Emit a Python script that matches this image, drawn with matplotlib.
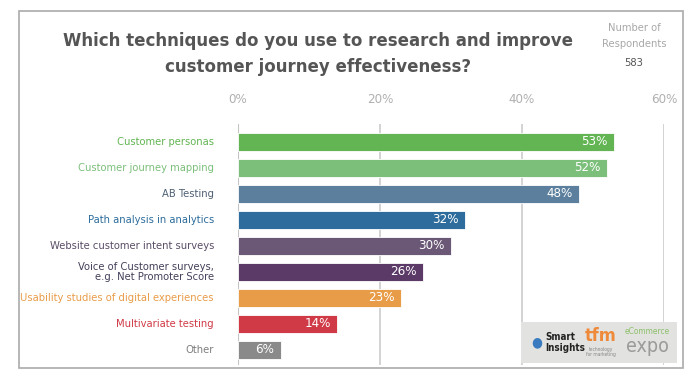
import matplotlib
matplotlib.use("Agg")
import matplotlib.pyplot as plt
from matplotlib.patches import Rectangle

plt.rcParams['font.family'] = ['DejaVu Sans']
plt.rcParams['font.stretch'] = 'condensed'

categories = [
    "Customer personas",
    "Customer journey mapping",
    "AB Testing",
    "Path analysis in analytics",
    "Website customer intent surveys",
    "Voice of Customer surveys,\ne.g. Net Promoter Score",
    "Usability studies of digital experiences",
    "Multivariate testing",
    "Other",
]
values = [53, 52, 48, 32, 30, 26, 23, 14, 6]
bar_colors = ["#62b552", "#7bbf7a", "#5b7f9c", "#2d6c9c", "#6a5876",
              "#5b3a68", "#e89c48", "#d03a46", "#8a8a8a"]
label_colors = ["#62b552", "#7bbf7a", "#4e5f73", "#2d6c9c", "#5a4d66",
                "#45405a", "#e89c48", "#d03a46", "#7d7d7d"]
ticks = [0, 20, 40, 60]
respondents = 583

W, H = 700, 383
fig = plt.figure(figsize=(7, 3.83), dpi=100)

# outer frame
fig.patches.append(Rectangle((19 / W, 1 - 368 / H), (683 - 19) / W, (368 - 11) / H,
                             transform=fig.transFigure, fill=False,
                             edgecolor="#aaaaaa", linewidth=1.2))

ax = fig.add_axes([238 / W, 1 - 365 / H, (664 - 238) / W, (365 - 124) / H])
y = list(range(len(categories)))
ax.barh(y, values, height=0.7, color=bar_colors, edgecolor="white", linewidth=0.6)
ax.set_xlim(0, 60)
ax.set_ylim(8.58, -0.69)
for s in ax.spines.values():
    s.set_visible(False)
ax.set_xticks(ticks)
ax.set_xticklabels([f"{t}%" for t in ticks])
ax.xaxis.tick_top()
ax.tick_params(axis="x", length=0, pad=13, labelsize=9.5, labelcolor="#b0b0b0")
ax.set_yticks([])
ax.grid(axis="x", color="#c8c8c8", linewidth=1.1)
ax.set_axisbelow(True)
ax.axvline(0, color="#bbbbbb", linewidth=1.5, zorder=0)

for yi, v, lab, lc in zip(y, values, categories, label_colors):
    ax.text(v - 0.9, yi, f"{v}%", ha="right", va="center", color="white", fontsize=9.5)
    ax.text(214 / W, 1 - (142 + 26 * yi) / H, lab, transform=fig.transFigure,
            ha="right", va="center", color=lc, fontsize=8.0, linespacing=0.95)

fig.text(318 / W, 1 - 41 / H, "Which techniques do you use to research and improve",
         ha="center", va="center", fontsize=13.3, fontweight="bold", color="#555555")
fig.text(318 / W, 1 - 67 / H, "customer journey effectiveness?",
         ha="center", va="center", fontsize=13.3, fontweight="bold", color="#555555")
fig.text(634 / W, 1 - 28 / H, "Number of", ha="center", va="center", fontsize=8, color="#a8a8a8")
fig.text(634 / W, 1 - 44 / H, "Respondents", ha="center", va="center", fontsize=8, color="#a8a8a8")
fig.text(634 / W, 1 - 63 / H, str(respondents), ha="center", va="center", fontsize=8, color="#555555")

# logo box
fig.patches.append(Rectangle((521 / W, 1 - 363 / H), (677 - 521) / W, (363 - 322) / H,
                             transform=fig.transFigure, facecolor="#e2e2e0",
                             edgecolor="none", zorder=5))
fig.text(545 / W, 1 - 337 / H, "Smart", ha="left", va="center", fontsize=7,
         fontweight="bold", color="#222222", zorder=6)
fig.text(545 / W, 1 - 348 / H, "Insights", ha="left", va="center", fontsize=7,
         fontweight="bold", color="#222222", zorder=6)
fig.text(537 / W, 1 - 342 / H, "●", ha="center", va="center", fontsize=10,
         color="#3a7bc0", zorder=6)
fig.text(601 / W, 1 - 336 / H, "tfm", ha="center", va="center", fontsize=13,
         fontweight="bold", color="#ee8a3a", zorder=6)
fig.text(601 / W, 1 - 352 / H, "technology\nfor marketing", ha="center", va="center",
         fontsize=3.5, color="#888888", zorder=6, linespacing=0.9)
fig.text(647 / W, 1 - 332 / H, "eCommerce", ha="center", va="center", fontsize=6,
         color="#8cc06a", zorder=6)
fig.text(647 / W, 1 - 346 / H, "expo", ha="center", va="center", fontsize=14,
         color="#9a9a9a", zorder=6)

fig.savefig("out.png", dpi=100)
